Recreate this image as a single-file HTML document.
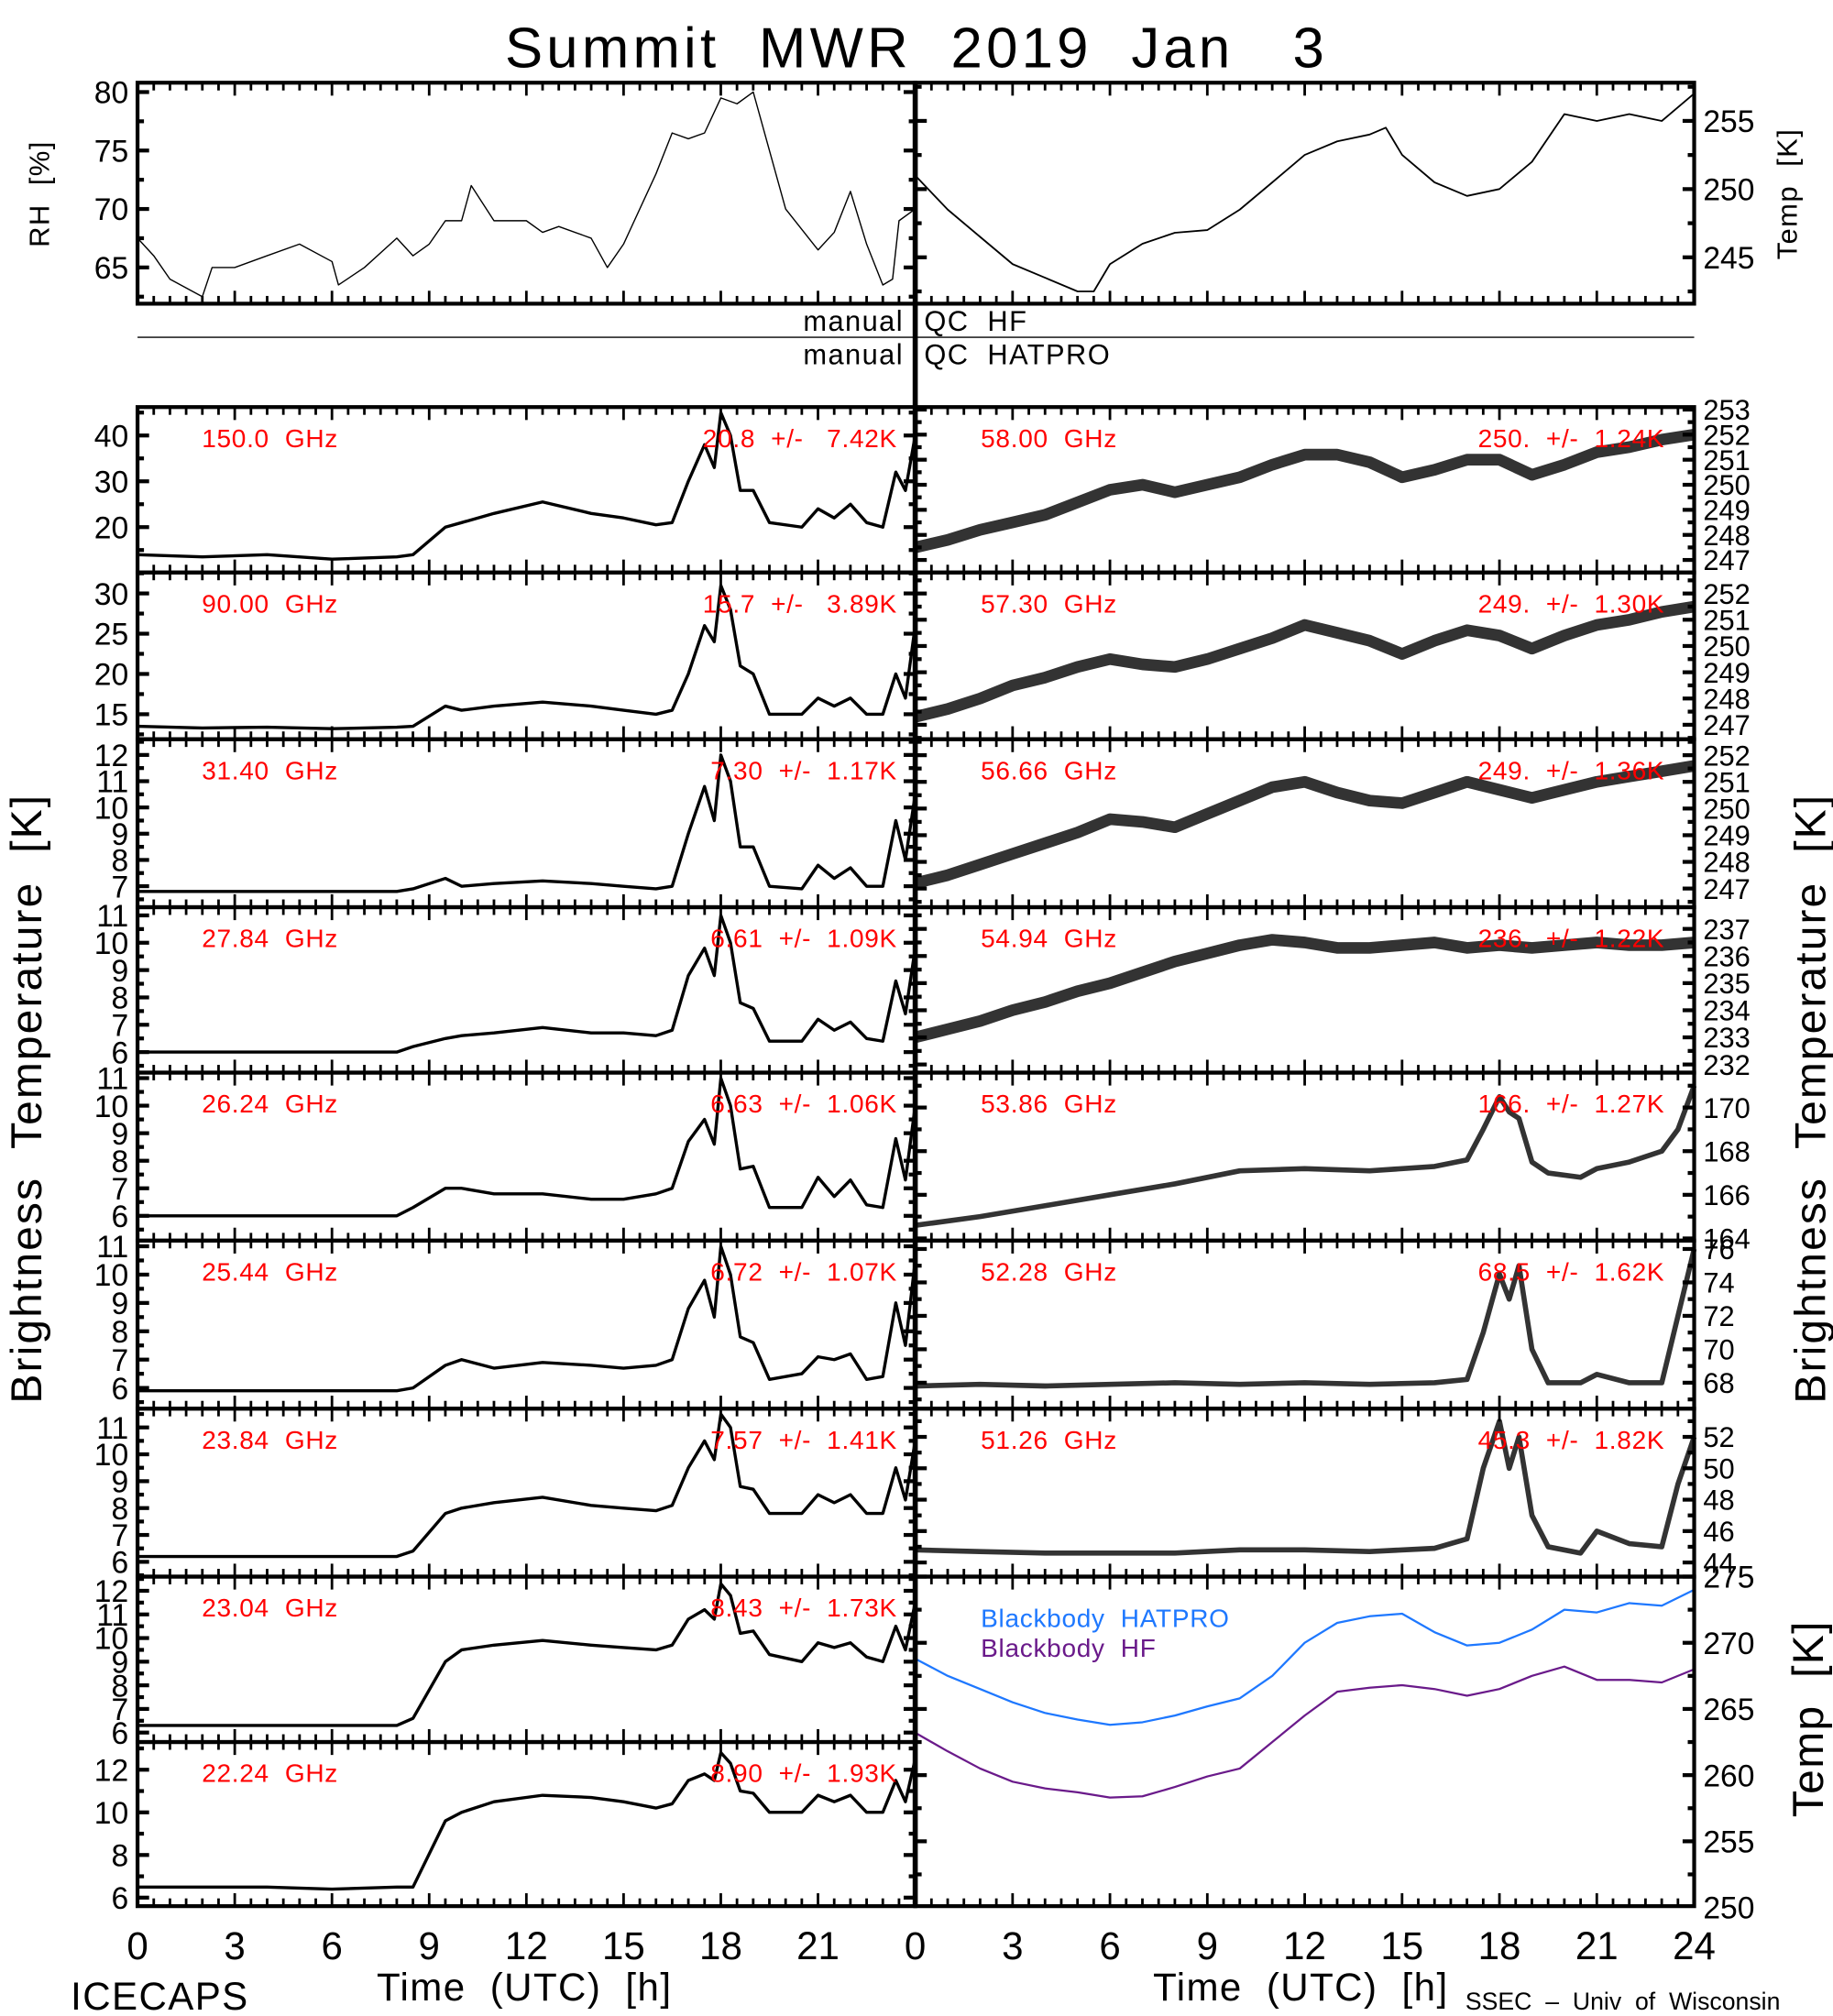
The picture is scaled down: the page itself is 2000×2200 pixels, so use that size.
<!DOCTYPE html>
<html><head><meta charset="utf-8"><style>
html,body{margin:0;padding:0;background:#fff;}
svg{display:block;font-family:"Liberation Sans",sans-serif;}
svg text{white-space:pre;}
</style></head><body>
<svg id="chart" width="2000" height="2200" viewBox="0 0 1426 1560" preserveAspectRatio="none" xmlns="http://www.w3.org/2000/svg"></svg>
<script>
// ---- data ----
const tLeft=[0,2,4,6,8,8.5,9.5,10,11,12.5,14,15,16,16.5,17,17.5,17.8,18,18.3,18.6,19,19.5,20.5,21,21.5,22,22.5,23,23.4,23.7,24];
const v150=[14,13.5,14,13,13.5,14,20,21,23,25.5,23,22,20.5,21,30,38,33,45,40,28,28,21,20,24,22,25,21,20,32,28,40];
const v90=[13.5,13.3,13.4,13.2,13.4,13.5,16,15.5,16,16.5,16,15.5,15,15.5,20,26,24,31,28,21,20,15,15,17,16,17,15,15,20,17,26];
const v3140=[6.8,6.8,6.8,6.8,6.8,6.9,7.3,7.0,7.1,7.2,7.1,7.0,6.9,7.0,9,10.8,9.5,12,11,8.5,8.5,7.0,6.9,7.8,7.3,7.7,7.0,7.0,9.5,8,10.5];
const v2784=[6.0,6.0,6.0,6.0,6.0,6.2,6.5,6.6,6.7,6.9,6.7,6.7,6.6,6.8,8.8,9.8,8.8,11,10,7.8,7.6,6.4,6.4,7.2,6.8,7.1,6.5,6.4,8.6,7.4,9.8];
const v2624=[6.0,6.0,6.0,6.0,6.0,6.3,7.0,7.0,6.8,6.8,6.6,6.6,6.8,7.0,8.7,9.5,8.6,11,10,7.7,7.8,6.3,6.3,7.4,6.7,7.3,6.4,6.3,8.8,7.3,10];
const v2544=[5.9,5.9,5.9,5.9,5.9,6.0,6.8,7.0,6.7,6.9,6.8,6.7,6.8,7.0,8.8,9.8,8.5,11,10,7.8,7.6,6.3,6.5,7.1,7.0,7.2,6.3,6.4,9,7.5,10.5];
const v2384=[6.2,6.2,6.2,6.2,6.2,6.4,7.8,8.0,8.2,8.4,8.1,8.0,7.9,8.1,9.5,10.5,9.8,11.5,11,8.8,8.7,7.8,7.8,8.5,8.2,8.5,7.8,7.8,9.5,8.3,10.5];
const v2304=[6.3,6.3,6.3,6.3,6.3,6.6,9.0,9.5,9.7,9.9,9.7,9.6,9.5,9.7,10.8,11.2,10.8,12.3,11.8,10.2,10.3,9.3,9.0,9.8,9.6,9.8,9.2,9.0,10.5,9.5,11.5];
const v2224=[6.5,6.5,6.5,6.4,6.5,6.5,9.6,10.0,10.5,10.8,10.7,10.5,10.2,10.4,11.5,11.8,11.5,12.8,12.3,11.0,10.9,10.0,10.0,10.8,10.5,10.8,10.0,10.0,11.5,10.5,12.5];
const tHour=[0,1,2,3,4,5,6,7,8,9,10,11,12,13,14,15,16,17,18,19,20,21,22,23,24];
const v5800=[247.5,247.8,248.2,248.5,248.8,249.3,249.8,250,249.7,250,250.3,250.8,251.2,251.2,250.9,250.3,250.6,251,251,250.4,250.8,251.3,251.5,251.8,252];
const v5730=[247.3,247.6,248,248.5,248.8,249.2,249.5,249.3,249.2,249.5,249.9,250.3,250.8,250.5,250.2,249.7,250.2,250.6,250.4,249.9,250.4,250.8,251,251.3,251.5];
const v5666=[247.2,247.5,247.9,248.3,248.7,249.1,249.6,249.5,249.3,249.8,250.3,250.8,251,250.6,250.3,250.2,250.6,251,250.7,250.4,250.7,251,251.2,251.4,251.6];
const v5494=[233,233.3,233.6,234,234.3,234.7,235,235.4,235.8,236.1,236.4,236.6,236.5,236.3,236.3,236.4,236.5,236.3,236.4,236.3,236.4,236.5,236.4,236.4,236.5];
const tPeak=[0,2,4,6,8,10,12,14,16,17,17.5,18,18.3,18.6,19,19.5,20.5,21,22,23,23.5,24];
const v5386=[164.6,165,165.5,166,166.5,167.1,167.2,167.1,167.3,167.6,169,170.5,169.8,169.5,167.5,167,166.8,167.2,167.5,168,169,171];
const v5228=[67.8,67.9,67.8,67.9,68,67.9,68,67.9,68,68.2,71,74.5,73,75,70,68,68,68.5,68,68,72,76];
const v5126=[44.8,44.7,44.6,44.6,44.6,44.8,44.8,44.7,44.9,45.5,50,53,50,52,47,45,44.6,46,45.2,45,49,52];
const vBbHatpro=[268.8,267.5,266.5,265.5,264.7,264.2,263.8,264,264.5,265.2,265.8,267.5,270,271.5,272,272.2,270.8,269.8,270,271,272.5,272.3,273,272.8,274];
const vBbHf=[263.2,261.8,260.5,259.5,259,258.7,258.3,258.4,259.1,259.9,260.5,262.5,264.5,266.3,266.6,266.8,266.5,266,266.5,267.5,268.2,267.2,267.2,267,268];
const tRh=[0,0.5,1,2,2.3,3,4,5,6,6.2,7,8,8.5,9,9.5,10,10.3,11,12,12.5,13,14,14.5,15,16,16.5,17,17.5,18,18.5,19,19.5,20,21,21.5,22,22.5,23,23.3,23.5,24];
const vRh=[67.5,66,64,62.5,65,65,66,67,65.5,63.5,65,67.5,66,67,69,69,72,69,69,68,68.5,67.5,65,67,73,76.5,76,76.5,79.5,79,80,75,70,66.5,68,71.5,67,63.5,64,69,70];
const tTemp=[0,1,2,3,4,5,5.5,6,7,8,9,10,11,12,13,14,14.5,15,16,17,18,19,20,21,22,23,24];
const vTemp=[251,248.5,246.5,244.5,243.5,242.5,242.5,244.5,246,246.8,247,248.5,250.5,252.5,253.5,254,254.5,252.5,250.5,249.5,250,252,255.5,255,255.5,255,257];

const svg=document.getElementById('chart');
const NS='http://www.w3.org/2000/svg';
function el(tag,attrs,parent){const e=document.createElementNS(NS,tag);for(const k in attrs)e.setAttribute(k,attrs[k]);(parent||svg).appendChild(e);return e;}
function txt(x,y,s,size,opts){opts=opts||{};const e=el('text',{x:x,y:y,'font-size':size,fill:opts.fill||'#000','text-anchor':opts.anchor||'start','letter-spacing':opts.ls||0});if(opts.rot)e.setAttribute('transform','rotate('+opts.rot+' '+x+' '+y+')');e.textContent=s;return e;}

const LX0=107,MX=712,RX1=1318;
function xs(h,x0,x1){return x0+(x1-x0)*h/24;}
function ys(v,y0,y1,lo,hi){return y1-(y1-y0)*(v-lo)/(hi-lo);}

function drawSeries(t,v,x0,x1,y0,y1,lo,hi,color,w,name){
  let d='';for(let i=0;i<t.length;i++){d+=(i?'L':'M')+xs(t[i],x0,x1).toFixed(1)+' '+ys(v[i],y0,y1,lo,hi).toFixed(1);}
  const p=el('path',{d:d,fill:'none',stroke:color,'stroke-width':w,'stroke-linejoin':'round'});
  
  
  return p;
}
function xTicks(x0,x1,y0,y1){
  for(let h=0;h<=24;h+=0.5){const x=xs(h,x0,x1);const L=(h%3===0)?10:6;
    el('line',{x1:x,y1:y1,x2:x,y2:y1-L,stroke:'#000','stroke-width':2});
    el('line',{x1:x,y1:y0,x2:x,y2:y0+L,stroke:'#000','stroke-width':2});}
}
function yTicks(x0,x1,y0,y1,lo,hi,ticks,labelSide,fs){
  const step=ticks.length>1?Math.abs(ticks[1]-ticks[0]):1;
  for(let v=Math.ceil(lo/(step/2))*(step/2);v<=hi;v+=step/2){
    const y=ys(v,y0,y1,lo,hi);const major=ticks.some(t=>Math.abs(t-v)<1e-6);const L=major?9:5;
    el('line',{x1:x0,y1:y,x2:x0+L,y2:y,stroke:'#000','stroke-width':3});
    el('line',{x1:x1,y1:y,x2:x1-L,y2:y,stroke:'#000','stroke-width':3});
  }
  ticks.forEach(v=>{const y=ys(v,y0,y1,lo,hi);
    const t=labelSide==='left'?txt(x0-7,y+fs*0.36,String(v),fs,{anchor:'end'}):txt(x1+7,y+fs*0.36,String(v),fs);
    
    });
}
function frame(x0,x1,y0,y1,name){const r=el('rect',{x:x0,y:y0,width:x1-x0,height:y1-y0,fill:'none',stroke:'#000','stroke-width':3});
  
  }

// title
const title=txt(713,52,'Summit  MWR  2019  Jan   3',44,{anchor:'middle',ls:3});



// top panels
const TY0=64,TY1=235;
drawSeries(tRh,vRh,LX0,MX,TY0,TY1,61.9,80.8,'#000',1,'rh-series');
drawSeries(tTemp,vTemp,MX,RX1,TY0,TY1,241.6,257.8,'#000',1.3,'air-temp-series');
xTicks(LX0,MX,TY0,TY1);xTicks(MX,RX1,TY0,TY1);
yTicks(LX0,MX,TY0,TY1,61.9,80.8,[65,70,75,80],'left',24);
yTicks(MX,RX1,TY0,TY1,241.6,257.8,[245,250,255],'right',24);
frame(LX0,MX,TY0,TY1,'rh-panel');frame(MX,RX1,TY0,TY1,'air-temp-panel');
let t=txt(38,150,'RH  [%]',22,{anchor:'middle',rot:-90,ls:1});


t=txt(1398,150,'Temp  [K]',22,{anchor:'middle',rot:-90,ls:1});



// manual QC
el('line',{x1:LX0,y1:261,x2:RX1,y2:261,stroke:'#000','stroke-width':1});
t=txt(703,256,'manual',22,{anchor:'end',ls:1});


t=txt(719,256,'QC  HF',22,{ls:1});


t=txt(703,282,'manual',22,{anchor:'end',ls:1});


t=txt(719,282,'QC  HATPRO',22,{ls:1});



// left panels
const leftP=[
 [315,443,10.1,46.2,[20,30,40],v150,'150.0  GHz','20.8  +/-   7.42K'],
 [443,572,11.9,32.6,[15,20,25,30],v90,'90.00  GHz','15.7  +/-   3.89K'],
 [572,702,6.2,12.6,[7,8,9,10,11,12],v3140,'31.40  GHz','7.30  +/-  1.17K'],
 [702,830,5.25,11.3,[6,7,8,9,10,11],v2784,'27.84  GHz','6.61  +/-  1.09K'],
 [830,960,5.1,11.2,[6,7,8,9,10,11],v2624,'26.24  GHz','6.63  +/-  1.06K'],
 [960,1090,5.27,11.2,[6,7,8,9,10,11],v2544,'25.44  GHz','6.72  +/-  1.07K'],
 [1090,1220,5.45,11.7,[6,7,8,9,10,11],v2384,'23.84  GHz','7.57  +/-  1.41K'],
 [1220,1348,5.6,12.6,[6,7,8,9,10,11,12],v2304,'23.04  GHz','8.43  +/-  1.73K'],
 [1348,1475,5.6,13.3,[6,8,10,12],v2224,'22.24  GHz','8.90  +/-  1.93K']
];
leftP.forEach((p,i)=>{
  const [y0,y1,lo,hi,tk,vals,lab,st]=p;
  drawSeries(tLeft,vals,LX0,MX,y0,y1,lo,hi,'#000',2.4,'tb-series-'+lab.replace(/[ .]/g,''));
  xTicks(LX0,MX,y0,y1);
  yTicks(LX0,MX,y0,y1,lo,hi,tk,'left',24);
  frame(LX0,MX,y0,y1,'tb-panel-left-'+i);
  let a=txt(157,y0+31,lab,20,{fill:'#ff0000',ls:0.5});
  
  
  let b=txt(698,y0+31,st,20,{fill:'#ff0000',anchor:'end',ls:0.5});
  
  
});

// right panels
const rightP=[
 [315,443,246.5,253.1,[247,248,249,250,251,252,253],tHour,v5800,'58.00  GHz','250.  +/-  1.24K'],
 [443,572,246.45,252.8,[247,248,249,250,251,252],tHour,v5730,'57.30  GHz','249.  +/-  1.30K'],
 [572,702,246.3,252.6,[247,248,249,250,251,252],tHour,v5666,'56.66  GHz','249.  +/-  1.36K'],
 [702,830,231.7,237.8,[232,233,234,235,236,237],tHour,v5494,'54.94  GHz','236.  +/-  1.22K'],
 [830,960,163.9,171.6,[164,166,168,170],tPeak,v5386,'53.86  GHz','166.  +/-  1.27K'],
 [960,1090,66.45,76.5,[68,70,72,74,76],tPeak,v5228,'52.28  GHz','68.5  +/-  1.62K'],
 [1090,1220,43.1,53.8,[44,46,48,50,52],tPeak,v5126,'51.26  GHz','45.3  +/-  1.82K']
];
rightP.forEach((p,i)=>{
  const [y0,y1,lo,hi,tk,tt,vals,lab,st]=p;
  drawSeries(tt,vals,MX,RX1,y0,y1,lo,hi,'#333',i<4?9:4,'tb-series-'+lab.replace(/[ .]/g,''));
  xTicks(MX,RX1,y0,y1);
  yTicks(MX,RX1,y0,y1,lo,hi,tk,'right',22);
  frame(MX,RX1,y0,y1,'tb-panel-right-'+i);
  let a=txt(763,y0+31,lab,20,{fill:'#ff0000',ls:0.5});
  
  
  let b=txt(1295,y0+31,st,20,{fill:'#ff0000',anchor:'end',ls:0.5});
  
  
});

// blackbody panel
const BY0=1220,BY1=1475,BLO=250.1,BHI=275;
drawSeries(tHour,vBbHatpro,MX,RX1,BY0,BY1,BLO,BHI,'#1e78ff',1.6,'blackbody-hatpro-line');
drawSeries(tHour,vBbHf,MX,RX1,BY0,BY1,BLO,BHI,'#6a1a8a',1.6,'blackbody-hf-line');
xTicks(MX,RX1,BY0,BY1);
yTicks(MX,RX1,BY0,BY1,BLO,BHI,[250,255,260,265,270,275],'right',24);
frame(MX,RX1,BY0,BY1,'blackbody-panel');
t=txt(763,1259,'Blackbody  HATPRO',20,{fill:'#1e78ff',ls:0.5});


t=txt(763,1282,'Blackbody  HF',20,{fill:'#6a1a8a',ls:0.5});


t=txt(1418,1330,'Temp  [K]',34,{anchor:'middle',rot:-90,ls:1});



// center divider
el('line',{x1:MX,y1:TY0,x2:MX,y2:1475,stroke:'#000','stroke-width':4});

// brightness axis titles
t=txt(32,850,'Brightness  Temperature  [K]',34,{anchor:'middle',rot:-90,ls:1.5});


t=txt(1420,850,'Brightness  Temperature  [K]',34,{anchor:'middle',rot:-90,ls:1.5});



// x tick labels
const xLabL=[0,3,6,9,12,15,18,21];
const xLabR=[0,3,6,9,12,15,18,21,24];
xLabL.forEach(h=>{const a=txt(xs(h,LX0,MX),1516,String(h),30,{anchor:'middle'});
  
  });
xLabR.forEach(h=>{const a=txt(xs(h,MX,RX1),1516,String(h),30,{anchor:'middle'});
  
  });
t=txt(408,1548,'Time  (UTC)  [h]',30,{anchor:'middle',ls:1});


t=txt(1012,1548,'Time  (UTC)  [h]',30,{anchor:'middle',ls:1});


t=txt(55,1555,'ICECAPS',30,{ls:1});


t=txt(1140,1555,'SSEC  –  Univ  of  Wisconsin',19,{});


</script>
</body></html>
